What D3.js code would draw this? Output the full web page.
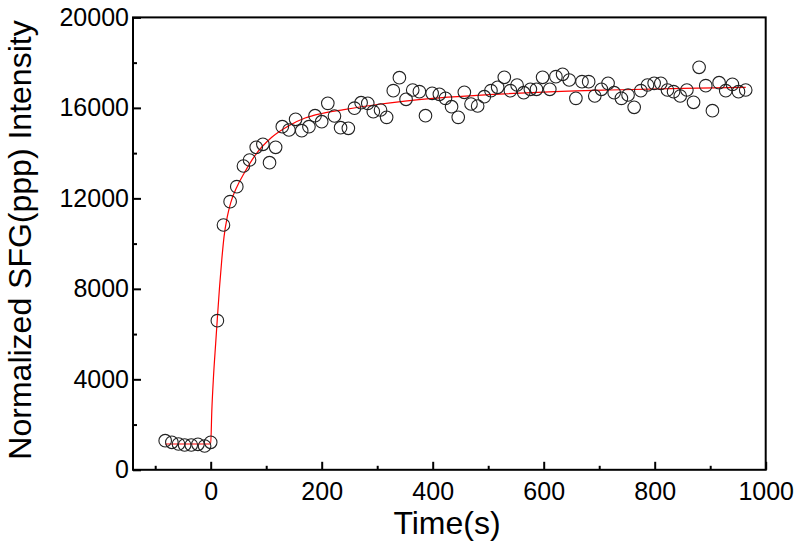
<!DOCTYPE html>
<html>
	<head>
		<meta charset="utf-8">
		<title></title>
		<style type="text/css">
			body{margin:0;background:#fff;}
			text{font-family:"Liberation Sans", Arial, sans-serif;fill:#000;}
		</style>
		<script src="https://cdn.jsdelivr.net/npm/d3@7/dist/d3.min.js"></script>
	</head>
	<body>
		<svg height='549' width='800'></svg>
		<script>
			// measured points, time (s) and intensity
			var times = [-82,-70,-58,-47,-35,-23,-11,0,12,23,35,47,59,70,82,94,106,117,129,141,153,164,177,188,200,211,223,234,248,259,271,283,293,306,317,329,340,352,364,376,387,399,412,423,434,446,457,469,481,493,505,517,529,540,552,564,576,587,598,611,622,634,646,658,669,681,692,704,716,727,740,752,763,775,787,799,811,823,834,846,858,870,880,892,904,916,928,940,951,964];
			var intensity = [1286,1216,1141,1096,1096,1127,1052,1216,6592,10822,11853,12516,13431,13696,14257,14390,13576,14257,15168,15022,15495,14991,15168,15654,15389,16202,15641,15124,15097,15989,16229,16202,15832,15906,15583,16760,17334,16379,16791,16716,15654,16643,16600,16423,16052,15583,16689,16172,16083,16494,16760,16910,17352,16760,17011,16671,16821,16821,17352,16821,17379,17485,17232,16423,17158,17158,16525,16821,17086,16671,16423,16569,16026,16760,17011,17086,17086,16791,16716,16525,16791,16247,17794,16981,15875,17113,16760,17042,16716,16791];

			// red fit line
			var fitTimes = [-82,0,2,5,9,12,16,20,24,30,36,48,60,80,110,140,170,200,240,300,350,400,480,600,720,850,964];
			var fitValues = [1140,1140,2600,4100,5600,6700,8100,9300,10300,11200,11800,12550,13100,13900,14700,15200,15550,15750,15920,16150,16300,16420,16550,16700,16790,16860,16910];

			var xMajor = [0,200,400,600,800,1000];
			var xMinor = [-100,100,300,500,700,900];
			var yMajor = [0,4000,8000,12000,16000,20000];
			var yMinor = [2000,6000,10000,14000,18000];

			var svg = d3.select("svg");
			var pLeft = 133, pRight = 765.7, pTop = 17.4, pBottom = 469.8;

			var x = d3.scaleLinear().domain([-140,1000]).range([pLeft,pRight]);
			var y = d3.scaleLinear().domain([0,20000]).range([pBottom,pTop]);

			// minor ticks first, no labels
			svg.append("g")
				.attr("transform","translate(0,"+pBottom+")")
				.call(d3.axisBottom(x).tickValues(xMinor).tickSize(-4).tickFormat(""))
				.call(g => g.select(".domain").remove());
			svg.append("g")
				.attr("transform","translate("+pLeft+",0)")
				.call(d3.axisLeft(y).tickValues(yMinor).tickSize(-4).tickFormat(""))
				.call(g => g.select(".domain").remove());

			var xAxis = svg.append("g")
				.attr("transform","translate(0,"+pBottom+")")
				.call(d3.axisBottom(x).tickValues(xMajor).tickSize(-8).tickPadding(12).tickFormat(d3.format("d")));
			var yAxis = svg.append("g")
				.attr("transform","translate("+pLeft+",0)")
				.call(d3.axisLeft(y).tickValues(yMajor).tickSize(-8).tickPadding(4).tickFormat(d3.format("d")));

			[xAxis,yAxis].forEach(function(g){
				g.select(".domain").remove();
				g.selectAll("text").style("font-size","25px").style("font-family","Liberation Sans, Arial, sans-serif").attr("fill","#000");
			});
			svg.selectAll(".tick line").attr("stroke","#000").attr("stroke-width",2);

			// frame
			svg.append("rect")
				.attr("x",pLeft).attr("y",pTop)
				.attr("width",pRight-pLeft).attr("height",pBottom-pTop)
				.attr("fill","none").attr("stroke","#000").attr("stroke-width",2);

			var fit = fitTimes.map(function(t,i){ return [t,fitValues[i]]; });
			svg.append("path")
				.datum(fit)
				.attr("fill","none")
				.attr("stroke","#ff0000")
				.attr("stroke-width",1.2)
				.attr("d",d3.line().x(d => x(d[0])).y(d => y(d[1])).curve(d3.curveMonotoneX));

			svg.append("g")
				.selectAll("circle")
				.data(times)
				.enter()
				.append("circle")
				.attr("cx",function(d){ return x(d); })
				.attr("cy",function(d,i){ return y(intensity[i]); })
				.attr("r",6.3)
				.attr("fill","none")
				.attr("stroke","#222")
				.attr("stroke-width",1.1);

			svg.append("text")
				.attr("x",447).attr("y",534)
				.attr("text-anchor","middle")
				.style("font-size","32px")
				.text("Time(s)");

			svg.append("text")
				.attr("transform","translate(31,240) rotate(-90)")
				.attr("text-anchor","middle")
				.style("font-size","32px")
				.text("Normalized SFG(ppp) Intensity");
		</script>
	</body>
</html>
